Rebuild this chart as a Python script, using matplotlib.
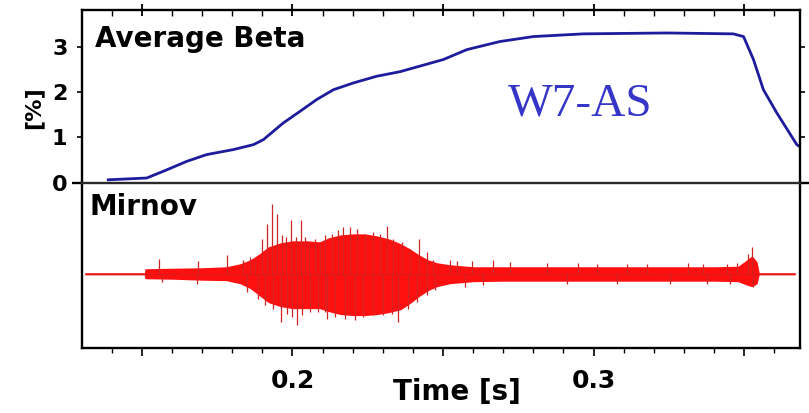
import matplotlib
matplotlib.use("Agg")
import matplotlib.pyplot as plt
from matplotlib.ticker import FixedLocator, FixedFormatter

# average beta [%] vs time [s]
t_beta = [0.1388, 0.1516, 0.1582, 0.1649, 0.1715, 0.1803, 0.1870, 0.1903, 0.1969,
          0.2025, 0.2080, 0.2136, 0.2202, 0.2280, 0.2357, 0.2501, 0.2579, 0.2689,
          0.2800, 0.2966, 0.3243, 0.3464, 0.3498, 0.3531, 0.3564, 0.3609, 0.3675, 0.3684]
beta = [0.06, 0.10, 0.28, 0.47, 0.62, 0.73, 0.84, 0.95, 1.32,
        1.58, 1.84, 2.06, 2.21, 2.36, 2.46, 2.73, 2.95, 3.13,
        3.24, 3.30, 3.32, 3.30, 3.24, 2.73, 2.06, 1.54, 0.84, 0.80]

# mirnov signal envelope (a.u.)
t_env = [0.131, 0.1508, 0.151, 0.160, 0.170, 0.178, 0.1826, 0.186, 0.189, 0.192,
         0.196, 0.200, 0.205, 0.209, 0.212, 0.216, 0.220, 0.224, 0.228, 0.232,
         0.236, 0.239, 0.242, 0.245, 0.248, 0.2523, 0.26, 0.27, 0.28, 0.30,
         0.32, 0.34, 0.348, 0.3505, 0.3526, 0.3543, 0.355, 0.367]
env_up = [0.1, 0.1, 0.5, 0.55, 0.6, 0.7, 1.0, 1.4, 2.0, 2.7,
          3.1, 3.3, 3.3, 3.2, 3.6, 3.9, 4.0, 4.0, 3.8, 3.5,
          3.0, 2.5, 1.9, 1.4, 1.1, 0.9, 0.7, 0.7, 0.7, 0.7,
          0.7, 0.7, 0.75, 1.3, 1.8, 1.2, 0.1, 0.1]
env_lo = [-0.1, -0.1, -0.5, -0.55, -0.65, -0.7, -1.0, -1.5, -2.2, -2.9,
          -3.3, -3.5, -3.5, -3.5, -3.8, -4.1, -4.2, -4.2, -4.1, -3.9,
          -3.6, -3.0, -2.3, -1.7, -1.3, -1.0, -0.8, -0.75, -0.75, -0.75,
          -0.75, -0.75, -0.8, -1.1, -1.3, -1.0, -0.1, -0.1]

# single spikes (time, peak a.u.)
spike_t = [0.15565, 0.15654, 0.16817, 0.1687, 0.17834,
           0.18365, 0.18478, 0.18588, 0.18754, 0.18864, 0.18977, 0.19086, 0.19142,
           0.19309, 0.19362, 0.19495, 0.19608, 0.19641, 0.19784, 0.19807, 0.1995,
           0.19973, 0.20116, 0.2014, 0.20272, 0.20306, 0.20415, 0.20558, 0.20581,
           0.20748, 0.20857, 0.20914, 0.2108, 0.2108, 0.21136, 0.21302, 0.21412,
           0.21522, 0.21688, 0.21744, 0.2191, 0.22076, 0.22133, 0.22352, 0.22409,
           0.22684, 0.22684, 0.22907, 0.23017, 0.2313, 0.23296, 0.23349, 0.23515,
           0.23628, 0.23847, 0.23904, 0.24126, 0.24213, 0.24458, 0.24458, 0.24678,
           0.24734, 0.25233, 0.25455, 0.25731, 0.25953, 0.26339, 0.26671, 0.27226,
           0.28445, 0.2911, 0.29485, 0.30106, 0.30771, 0.31103, 0.31767, 0.32542,
           0.3314, 0.33638, 0.33761, 0.34425, 0.34535, 0.34757, 0.3513, 0.3527, 0.3530]
spike_a = [1.5, -0.8, -1.0, 1.3, 1.85,
           1.35, -1.8, 1.7, 1.35, -2.5, 3.5, -3.15, 5.0,
           7.0, -3.5, 6.0, -4.8, 3.85, 3.7, -4.0, 5.35,
           -4.3, 3.7, -5.15, 5.35, -4.15, 3.7, 3.2, -3.8,
           3.5, -3.8, 3.0, 3.85, -3.8, -4.5, 4.0, -4.3,
           4.35, 4.7, -4.5, 4.7, -4.65, 4.5, -4.3, 4.0,
           4.2, -4.15, 4.0, -4.15, 4.8, -4.0, 3.5, -4.8,
           3.2, -3.5, 2.5, -2.8, 3.5, 2.2, -2.15, 1.35,
           -1.65, 1.35, 1.3, -1.3, 1.25, -1.15, 1.35, 1.2,
           1.1, -1.0, 1.05, 1.0, -1.0, 1.0, 1.0, -1.0,
           1.05, 1.0, -1.0, 1.0, -1.0, 1.1, 2.0, 2.7, -1.3]

xtick_major = [0.15, 0.2, 0.25, 0.3, 0.35]
xtick_labels = ['', '0.2', '', '0.3', '']
xtick_minor = [0.14, 0.16, 0.17, 0.18, 0.19, 0.21, 0.22, 0.23, 0.24, 0.26,
               0.27, 0.28, 0.29, 0.31, 0.32, 0.33, 0.34, 0.36]

fig = plt.figure(figsize=(8.09, 4.13), dpi=100)
ax2 = fig.add_axes([0.1014, 0.1574, 0.8869, 0.4007])
ax1 = fig.add_axes([0.1014, 0.5581, 0.8869, 0.4177])
ax1.patch.set_visible(False)

xlim = (0.1301, 0.3684)

# top panel
ax1.plot(t_beta, beta, color='#1c1c9c', lw=2.0)
ax1.set_xlim(xlim)
ax1.set_ylim(0, 3.83)
for s in ax1.spines.values():
    s.set_linewidth(1.7)
ax1.spines['bottom'].set_color('#2a2a2a')
ax1.xaxis.set_ticks_position('top')
ax1.xaxis.set_major_locator(FixedLocator(xtick_major))
ax1.xaxis.set_minor_locator(FixedLocator(xtick_minor))
ax1.tick_params(axis='x', which='major', direction='inout', length=9, width=1.3, labeltop=False)
ax1.tick_params(axis='x', which='minor', direction='in', length=4.5, width=1.0)
ax1.yaxis.set_ticks_position('both')
ax1.yaxis.remove_overlapping_locs = False
ax1.yaxis.set_major_locator(FixedLocator([0, 1, 2, 3]))
ax1.yaxis.set_minor_locator(FixedLocator([0]))
ax1.tick_params(axis='y', which='major', direction='out', length=3.5, width=1.2,
                labelsize=16, pad=7)
ax1.tick_params(axis='y', which='minor', direction='out', length=7.5, width=1.7)
for lab in ax1.get_yticklabels():
    lab.set_fontweight('bold')
ax1.text(0.018, 0.787, 'Average Beta', transform=ax1.transAxes, fontsize=20,
         fontweight='bold', va='baseline', ha='left')
ax1.text(0.694, 0.39, 'W7-AS', transform=ax1.transAxes, fontsize=34,
         family='Liberation Serif', color='#3535c8', va='baseline', ha='center')

# bottom panel
ax2.fill_between(t_env, env_lo, env_up, color='#ff1010', lw=0)
ax2.hlines(0, 0.131, 0.367, color='#e01818', lw=1.0)
ax2.vlines(spike_t, 0, spike_a, color='#d02424', lw=0.9)
ax2.set_xlim(xlim)
ax2.set_ylim(-7.45, 9.15)
for s in ax2.spines.values():
    s.set_linewidth(1.7)
ax2.spines['top'].set_visible(False)
ax2.set_yticks([])
ax2.xaxis.set_major_locator(FixedLocator(xtick_major))
ax2.xaxis.set_major_formatter(FixedFormatter(xtick_labels))
ax2.xaxis.set_minor_locator(FixedLocator(xtick_minor))
ax2.tick_params(axis='x', which='major', direction='out', length=6, width=1.2,
                labelsize=18, pad=9)
ax2.tick_params(axis='x', which='minor', direction='out', length=3.5, width=1.0)
for lab in ax2.get_xticklabels():
    lab.set_fontweight('bold')
ax2.text(0.011, 0.801, 'Mirnov', transform=ax2.transAxes, fontsize=20,
         fontweight='bold', va='baseline', ha='left')

fig.text(33 / 809, 1 - 108 / 413, '[%]', rotation=90, fontsize=16, fontweight='bold',
         ha='center', va='center')
fig.text(457 / 809, 1 - 400 / 413, 'Time [s]', fontsize=20, fontweight='bold',
         ha='center', va='baseline')

fig.savefig('out.png', dpi=100)
